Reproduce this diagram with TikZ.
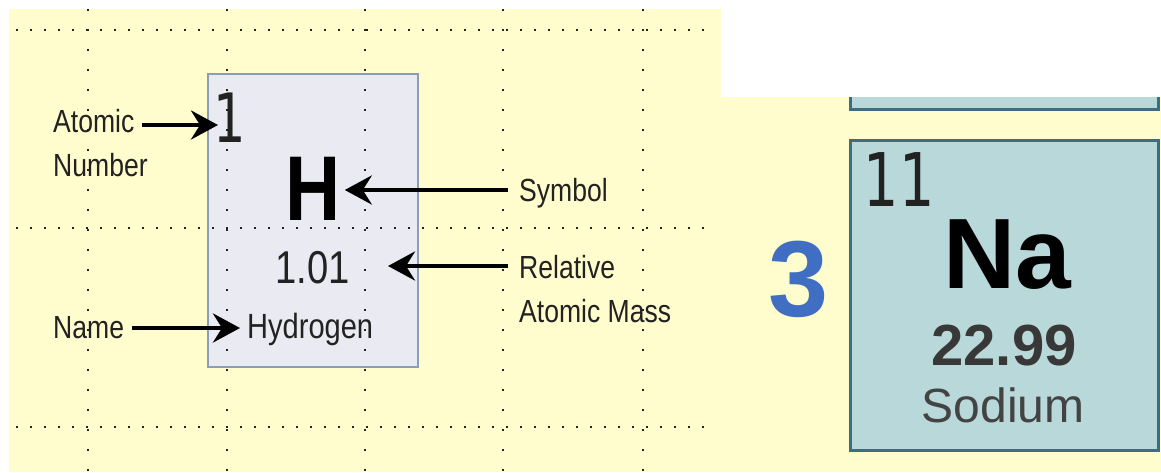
\documentclass[tikz,border=0pt]{standalone}
\usepackage{fontspec}
\setmainfont{Liberation Sans}[FakeStretch=0.83]
\newfontfamily\plainsans{Liberation Sans}
\newfontfamily\numfont{DejaVu Sans}[FakeStretch=0.75]
\usetikzlibrary{arrows.meta}
\definecolor{bgyellow}{HTML}{FFFDCD}
\definecolor{hfill}{HTML}{EAEAF2}
\definecolor{hborder}{HTML}{8C9DB8}
\definecolor{nafill}{HTML}{B8D8DA}
\definecolor{naborder}{HTML}{3E6C80}
\definecolor{periodblue}{HTML}{3F6EC2}
\definecolor{ink}{HTML}{222222}
\newcommand\fsz[2]{\fontsize{#1}{#2}\selectfont}
\begin{document}
\begin{tikzpicture}[x=1pt,y=-1pt,
  lbl/.style={inner sep=0pt, text=ink, font=\fsz{32}{44}},
  arr/.style={line width=4.2pt, draw=black, -{Stealth[length=27pt,width=29pt,inset=9pt]}},
  hbox/.style={draw=hborder, line width=2pt, fill=hfill, inner sep=0pt},
  nabox/.style={draw=naborder, line width=3pt, fill=nafill, inner sep=0pt},
  vdots/.style={draw=ink, line width=2.2pt, dash pattern=on 2.2pt off 17.8pt},
  hdots/.style={draw=ink, line width=2.2pt, dash pattern=on 2.2pt off 11.8pt}]
\useasboundingbox (0,0) rectangle (1161,472);
\fill[white] (0,0) rectangle (1161,472);
\fill[bgyellow] (9,9) rectangle (721,472);
\fill[bgyellow] (721,97) rectangle (1161,472);

% element box H
\node[hbox, minimum width=210pt, minimum height=293pt] (hbox) at (313,220.5) {};

% grid dots
\foreach \gx in {88,227,365,503,643} {
  \coordinate (vt\gx) at (\gx,9);
  \coordinate (vb\gx) at (\gx,472);
  \draw[vdots] (vt\gx) -- (vb\gx);
}
\foreach \gy in {30,228,427} {
  \coordinate (hl\gy) at (16,\gy);
  \coordinate (hr\gy) at (713,\gy);
  \draw[hdots] (hl\gy) -- (hr\gy);
}

% texts in H box
\node[inner sep=0pt, text=ink, font=\numfont\fsz{68}{68}] (one) at (230,118) {1};
\node[inner sep=0pt, text=black, font=\bfseries\fsz{92}{92}] (H) at (313,188.5) {H};
\node[inner sep=0pt, text=ink, font=\fsz{46}{46}] (mass) at (312.5,267.5) {1.01};
\node[inner sep=0pt, text=ink, font=\fsz{35}{35}, anchor=base west] (hyd) at (247,338) {Hydrogen};

% labels
\node[lbl, anchor=west, align=left] (atnum) at (53,143) {Atomic\\Number};
\node[lbl, anchor=base west] (symb) at (519,201) {Symbol};
\node[lbl, anchor=west, align=left] (relmass) at (519,289) {Relative\\Atomic Mass};
\node[lbl, anchor=base west] (name) at (53,338) {Name};

% arrows
\coordinate (aNs) at (142,125);
\coordinate (aNt) at (218,125);
\draw[arr] (aNs) -- (aNt);
\draw[arr] ([xshift=-11pt]symb.west |- 0,190) -- ([xshift=4pt]H.east |- 0,190);
\coordinate (rmS) at (508,266);
\coordinate (rmT) at (388,266);
\draw[arr] (rmS) -- (rmT);
\coordinate (nmS) at (132,328);
\coordinate (nmT) at (240,328);
\draw[arr] (nmS) -- (nmT);

% right part
\fill[nafill] (850,97) rectangle (1158,109);
\coordinate (pa) at (850,97);
\coordinate (pb) at (850,109);
\coordinate (pc) at (1158,109);
\coordinate (pd) at (1158,97);
\draw[naborder, line width=3pt] (pa) -- (pb) -- (pc) -- (pd);
\node[nabox, minimum width=308pt, minimum height=310pt] (nabox) at (1004,295) {};
\node[inner sep=0pt, text=ink, font=\numfont\fsz{74}{74}] (eleven) at (899,180) {11};
\node[inner sep=0pt, text=black, font=\plainsans\bfseries\fsz{100}{100}] (Na) at (1007,254.5) {Na};
\node[inner sep=0pt, text=ink!90, font=\plainsans\bfseries\fsz{58}{58}] (namass) at (1004,346) {22.99};
\node[inner sep=0pt, text=ink!85, font=\plainsans\fsz{48}{48}] (sodium) at (1003,405) {Sodium};
\node[inner sep=0pt, text=periodblue, font=\plainsans\bfseries\fsz{108}{108}] (period) at (799,279) {3};
\end{tikzpicture}
\end{document}
